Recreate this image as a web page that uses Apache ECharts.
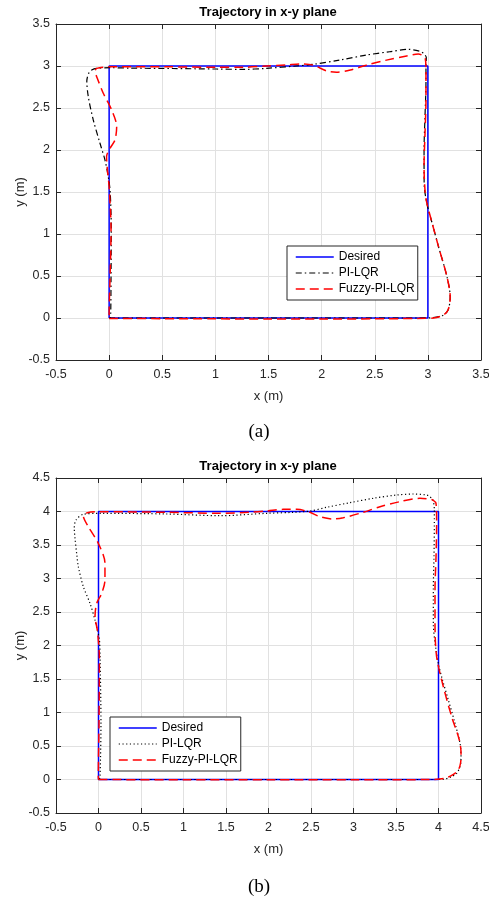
<!DOCTYPE html>
<html>
<head>
<meta charset="utf-8">
<script src="https://cdn.jsdelivr.net/npm/echarts@6/dist/echarts.min.js"></script>
<style>html,body{margin:0;padding:0;background:#fff}#c{width:489px;height:900px}</style>
</head>
<body>
<div id="c"></div>
<script>
// ---------- Data (a) ----------
const desiredA_x = [0, 3, 3, 0, 0];
const desiredA_y = [0, 0, 3, 3, 0];
const piA_x = [0.0,0.5,1.0,1.5,2.0,2.5,2.9,3.05,3.14,3.19,3.21,3.18,3.10,3.04,2.99,2.965,2.964,2.973,2.982,2.982,2.985,2.96,2.926,2.82,2.64,2.42,2.17,1.92,1.76,1.48,1.26,1.01,0.6,0.2,0.01,-0.12,-0.164,-0.19,-0.21,-0.196,-0.149,-0.086,-0.039,-0.008,0.01,0.02,0.018,0.015,0.01];
const piA_y = [0.0,0.0,0.0,0.0,0.0,0.0,0.0,0.005,0.03,0.095,0.25,0.49,0.85,1.13,1.37,1.6,2.0,2.4,2.8,3.0,3.10,3.15,3.175,3.198,3.17,3.13,3.07,3.02,3.0,2.972,2.96,2.964,2.97,2.975,2.98,2.972,2.952,2.92,2.82,2.635,2.357,2.08,1.88,1.68,1.5,1.05,0.5,0.06,0.0];
const fuzzyA_x = [0,0.5,1.0,1.5,2.0,2.5,2.9,3.05,3.14,3.19,3.21,3.18,3.10,3.04,2.99,2.973,2.964,2.973,2.982,2.982,2.975,2.95,2.91,2.80,2.61,2.42,2.27,2.14,2.05,1.92,1.80,1.67,1.48,1.26,1.01,0.54,0.01,-0.117,-0.133,-0.117,-0.055,0.024,0.071,0.055,0.008,-0.024,-0.016,0.0,0.018,0.008,0.0,0];
const fuzzyA_y = [-0.005,-0.008,-0.01,-0.012,-0.012,-0.01,-0.005,0.0,0.03,0.095,0.25,0.49,0.85,1.13,1.37,1.52,1.8,2.2,2.6,2.95,3.09,3.125,3.143,3.12,3.07,3.01,2.952,2.925,2.94,3.01,3.024,3.012,3.0,2.985,2.985,2.99,2.99,2.972,2.93,2.873,2.675,2.476,2.278,2.119,2.02,1.92,1.76,1.56,1.05,0.45,0.05,0];
const ticksA = [-0.5, 3.5, 0.5];

// ---------- Data (b) ----------
const desiredB_x = [0, 4, 4, 0, 0];
const desiredB_y = [0, 0, 4, 4, 0];
const piB_x = [0,1,2,3,3.9,4.057,4.15,4.214,4.255,4.265,4.253,4.194,4.115,4.037,3.998,3.971,3.939,3.939,3.947,3.951,3.951,3.935,3.90,3.861,3.704,3.508,3.233,2.959,2.685,2.488,2.292,1.979,1.429,0.802,0.018,-0.179,-0.265,-0.285,-0.276,-0.255,-0.238,-0.179,-0.1,-0.041,-0.014,0.01,0.018,0.029,0.018,0.01];
const piB_y = [0,0,0,0,0,0.003,0.04,0.092,0.2,0.34,0.54,0.84,1.19,1.53,1.73,1.93,2.33,2.83,3.33,3.82,4.02,4.17,4.22,4.246,4.261,4.246,4.197,4.132,4.063,4.007,3.988,3.973,3.937,3.963,3.973,3.958,3.873,3.75,3.6,3.35,3.18,2.88,2.63,2.38,2.23,2.1,1.83,0.84,0.04,0];
const fuzzyB_x = [0,1,2,3,3.9,4.076,4.18,4.233,4.26,4.265,4.245,4.155,4.057,3.978,3.959,3.959,3.971,3.978,3.971,3.935,3.9,3.782,3.547,3.312,3.115,2.88,2.762,2.606,2.468,2.332,2.174,1.979,1.782,1.429,0.802,0.018,-0.132,-0.179,-0.12,-0.002,0.076,0.076,0.038,-0.021,-0.041,-0.014,0.01,0.006,-0.002,0];
const fuzzyB_y = [0,-0.005,-0.005,-0.005,0,0.018,0.08,0.142,0.25,0.39,0.59,0.937,1.385,1.833,2.33,2.83,3.33,3.82,4.12,4.17,4.182,4.197,4.147,4.072,3.988,3.907,3.888,3.922,3.997,4.032,4.032,4.007,3.988,3.973,3.988,3.997,3.982,3.94,3.773,3.525,3.227,2.978,2.779,2.63,2.43,2.23,1.83,0.84,0.04,0];
const ticksB = [-0.5, 4.5, 0.5];

const seriesNames = ['Desired', 'PI-LQR', 'Fuzzy-PI-LQR'];
const titleText = 'Trajectory in x-y plane';
const xName = 'x (m)', yName = 'y (m)';
const panelLabels = ['(a)', '(b)'];

// ---------- Build ----------
const zip = (xs, ys) => xs.map((x, i) => [x, ys[i]]);
const FONT = '"Liberation Sans", Arial, Helvetica, sans-serif';
const AX = '#262626';
const blueStyle = {color: '#0000ff', width: 1.5, type: 'solid'};
const dashDot = {color: '#000000', width: 1.2, type: [6, 3, 1.5, 3]};
const dotted = {color: '#000000', width: 1.2, type: [1.2, 2.5]};
const redDash = {color: '#ff0000', width: 1.5, type: [9, 5]};

function mainX(gi, t) {
  return {type: 'value', gridIndex: gi, min: t[0], max: t[1], interval: t[2],
    name: xName, nameLocation: 'middle', nameGap: 30, nameMoveOverlap: false,
    nameTextStyle: {fontFamily: FONT, fontSize: 13, color: AX},
    axisLine: {show: true, onZero: false, lineStyle: {color: AX, width: 1}},
    axisTick: {show: true, inside: true, length: 5, lineStyle: {color: AX}},
    axisLabel: {fontFamily: FONT, fontSize: 12.5, color: AX, margin: 8},
    splitLine: {show: true, lineStyle: {color: '#e1e1e1', width: 1}}};
}
function topX(gi, t) {
  return {type: 'value', gridIndex: gi, min: t[0], max: t[1], interval: t[2], position: 'top',
    axisLine: {show: true, onZero: false, lineStyle: {color: AX, width: 1}},
    axisTick: {show: true, inside: true, length: 5, lineStyle: {color: AX}},
    axisLabel: {show: false}, splitLine: {show: false}};
}
function mainY(gi, t) {
  return {type: 'value', gridIndex: gi, min: t[0], max: t[1], interval: t[2],
    name: yName, nameLocation: 'middle', nameGap: 29, nameMoveOverlap: false,
    nameTextStyle: {fontFamily: FONT, fontSize: 13, color: AX},
    axisLine: {show: true, onZero: false, lineStyle: {color: AX, width: 1}},
    axisTick: {show: true, inside: true, length: 5, lineStyle: {color: AX}},
    axisLabel: {fontFamily: FONT, fontSize: 12.5, color: AX, margin: 6},
    splitLine: {show: true, lineStyle: {color: '#e1e1e1', width: 1}}};
}
function rightY(gi, t) {
  return {type: 'value', gridIndex: gi, min: t[0], max: t[1], interval: t[2], position: 'right',
    axisLine: {show: true, onZero: false, lineStyle: {color: AX, width: 1}},
    axisTick: {show: true, inside: true, length: 5, lineStyle: {color: AX}},
    axisLabel: {show: false}, splitLine: {show: false}};
}
function ser(name, data, xi, yi, ls, smooth) {
  return {type: 'line', name: name, data: data, xAxisIndex: xi, yAxisIndex: yi,
    showSymbol: false, symbol: 'none', smooth: smooth, lineStyle: ls, itemStyle: {color: ls.color},
    animation: false, silent: true};
}
function legend(left, top, styles) {
  return {show: true, left: left, top: top, orient: 'vertical', itemWidth: 38, itemHeight: 14, itemGap: 4,
    padding: [5, 3, 5, 8], borderColor: AX, borderWidth: 1, backgroundColor: '#fff',
    borderRadius: 0, selectedMode: false,
    textStyle: {fontFamily: FONT, fontSize: 12, color: '#000'},
    data: seriesNames.map((n, i) => ({name: n, lineStyle: styles[i], itemStyle: {color: 'rgba(0,0,0,0)', opacity: 0, borderWidth: 0}}))};
}

const chart = echarts.init(document.getElementById('c'), null, {renderer: 'canvas'});
chart.setOption({
  animation: false,
  backgroundColor: '#fff',
  grid: [
    {left: 56, top: 24, width: 425, height: 336, show: false, containLabel: false, outerBoundsMode: 'none'},
    {left: 56, top: 478, width: 425, height: 335, show: false, containLabel: false, outerBoundsMode: 'none'}
  ],
  xAxis: [mainX(0, ticksA), topX(0, ticksA), mainX(1, ticksB), topX(1, ticksB)],
  yAxis: [mainY(0, ticksA), rightY(0, ticksA), mainY(1, ticksB), rightY(1, ticksB)],
  legend: [legend(287, 246, [blueStyle, dashDot, redDash]), legend(110, 717, [blueStyle, dotted, redDash])],
  series: [
    ser(seriesNames[0], zip(desiredA_x, desiredA_y), 0, 0, blueStyle, false),
    ser(seriesNames[1], zip(piA_x, piA_y), 0, 0, dashDot, 0.3),
    ser(seriesNames[2], zip(fuzzyA_x, fuzzyA_y), 0, 0, redDash, 0.3),
    ser(seriesNames[0], zip(desiredB_x, desiredB_y), 2, 2, blueStyle, false),
    ser(seriesNames[1], zip(piB_x, piB_y), 2, 2, dotted, 0.3),
    ser(seriesNames[2], zip(fuzzyB_x, fuzzyB_y), 2, 2, redDash, 0.3)
  ],
  graphic: [
    {type: 'text', x: 268, y: 12, style: {text: titleText, font: 'bold 13px ' + FONT, fill: '#000', align: 'center', verticalAlign: 'middle'}},
    {type: 'text', x: 268, y: 466, style: {text: titleText, font: 'bold 13px ' + FONT, fill: '#000', align: 'center', verticalAlign: 'middle'}},
    {type: 'text', x: 259, y: 432, style: {text: panelLabels[0], font: '19px "Liberation Serif", "Times New Roman", serif', fill: '#000', align: 'center', verticalAlign: 'middle'}},
    {type: 'text', x: 259, y: 887, style: {text: panelLabels[1], font: '19px "Liberation Serif", "Times New Roman", serif', fill: '#000', align: 'center', verticalAlign: 'middle'}}
  ]
});
</script>
</body>
</html>
